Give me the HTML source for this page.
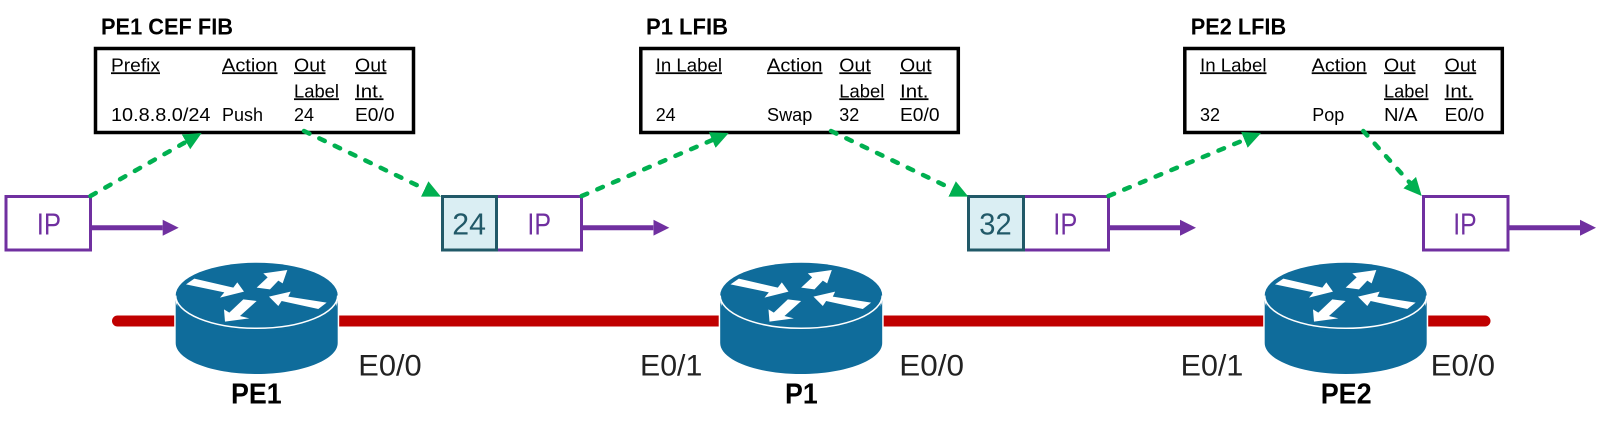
<!DOCTYPE html>
<html><head><meta charset="utf-8"><style>
html,body{margin:0;padding:0;background:#fff}
svg{display:block}
text{font-family:"Liberation Sans",sans-serif}
.t{font-size:18px;fill:#000}
.u{text-decoration:underline}
.h{font-size:23.500px;font-weight:bold;fill:#000}
.e{font-size:30px;fill:#222}
.n{font-size:28.500px;font-weight:bold;fill:#000}
.ip{font-size:31px;fill:#7030A0}
.lb{font-size:31px;fill:#215968}
.box{fill:#fff;stroke:#000;stroke-width:3.500}
.p{fill:#fff;stroke:#7030A0;stroke-width:3}
.l{fill:#DAEEF3;stroke:#215968;stroke-width:3}
.g{stroke:#00B050;stroke-width:4.500;stroke-dasharray:6 11;stroke-linecap:round;fill:none;marker-end:url(#gh)}
.a{stroke:#7030A0;stroke-width:5;fill:none;marker-end:url(#ph)}
</style></head><body>
<svg width="1600" height="432" viewBox="0 0 1600 432" xmlns="http://www.w3.org/2000/svg">
<defs>
<marker id="gh" markerUnits="userSpaceOnUse" markerWidth="20" markerHeight="18" refX="0" refY="8.500" orient="auto"><path d="M0 0L18 8.500L0 17Z" fill="#00B050"/></marker>
<marker id="ph" markerUnits="userSpaceOnUse" markerWidth="18" markerHeight="17" refX="0" refY="8" orient="auto"><path d="M0 0L16 8L0 16Z" fill="#7030A0"/></marker>
<g id="r">
<path d="M175.700 295V343C175.700 360 212 374 256.700 374S337.700 360 337.700 343V295Z" fill="#0F6C9B" stroke="#fff" stroke-width="3"/>
<ellipse cx="256.700" cy="295.500" rx="81" ry="32.800" fill="#0F6C9B"/>
<path d="M175.700 295.500A81 32.800 0 0 0 337.700 295.500" fill="none" stroke="#fff" stroke-width="1.500"/>
<path d="M175.700 300V343C175.700 360 212 374 256.700 374S337.700 360 337.700 343V300A81 32.800 0 0 1 175.700 300Z" fill="#0F6C9B"/>
<g fill="#fff" transform="translate(100 240) scale(.3333)">
<path d="M258 133L283 116L400 143L412 127L432 155L360 173L373 157Z"/>
<path d="M562 90L490 100L503 112L470 143L510 148L535 122L548 130Z"/>
<path d="M507 170L572 155L565 170L680 188L655 207L545 183L535 198Z"/>
<path d="M375 245L372 208L388 218L430 178L470 183L420 228L448 235Z"/>
</g>
</g>
</defs>

<path d="M117.500 321H1485" stroke="#C00000" stroke-width="11" stroke-linecap="round" fill="none"/>
<use href="#r"/>
<use href="#r" x="544.500"/>
<use href="#r" x="1089"/>

<text class="h" x="101" y="34.300" textLength="132" lengthAdjust="spacingAndGlyphs">PE1 CEF FIB</text>
<text class="h" x="646" y="34.300" textLength="82" lengthAdjust="spacingAndGlyphs">P1 LFIB</text>
<text class="h" x="1190.700" y="34.300" textLength="95.500" lengthAdjust="spacingAndGlyphs">PE2 LFIB</text>

<rect class="box" x="95.500" y="48.500" width="318" height="84"/>
<rect class="box" x="640.800" y="48.500" width="317.500" height="84"/>
<rect class="box" x="1184.800" y="48.500" width="317.500" height="84"/>

<text class="t u" x="111" y="71.300" textLength="49" lengthAdjust="spacingAndGlyphs">Prefix</text>
<text class="t u" x="222" y="71.300" textLength="55.500" lengthAdjust="spacingAndGlyphs">Action</text>
<text class="t u" x="294" y="71.300" textLength="31.500" lengthAdjust="spacingAndGlyphs">Out</text>
<text class="t u" x="355" y="71.300" textLength="31.500" lengthAdjust="spacingAndGlyphs">Out</text>
<text class="t u" x="294" y="97.300" textLength="45" lengthAdjust="spacingAndGlyphs">Label</text>
<text class="t u" x="355" y="97.300" textLength="28.500" lengthAdjust="spacingAndGlyphs">Int.</text>
<text class="t" x="111" y="121" textLength="99.500" lengthAdjust="spacingAndGlyphs">10.8.8.0/24</text>
<text class="t" x="222" y="121" textLength="41" lengthAdjust="spacingAndGlyphs">Push</text>
<text class="t" x="294" y="121" textLength="20" lengthAdjust="spacingAndGlyphs">24</text>
<text class="t" x="355" y="121" textLength="39.500" lengthAdjust="spacingAndGlyphs">E0/0</text>

<text class="t u" x="655.700" y="71.300" textLength="66.300" lengthAdjust="spacingAndGlyphs">In Label</text>
<text class="t u" x="767" y="71.300" textLength="55.500" lengthAdjust="spacingAndGlyphs">Action</text>
<text class="t u" x="839.300" y="71.300" textLength="31.500" lengthAdjust="spacingAndGlyphs">Out</text>
<text class="t u" x="900" y="71.300" textLength="31.500" lengthAdjust="spacingAndGlyphs">Out</text>
<text class="t u" x="839.300" y="97.300" textLength="45" lengthAdjust="spacingAndGlyphs">Label</text>
<text class="t u" x="900" y="97.300" textLength="28.500" lengthAdjust="spacingAndGlyphs">Int.</text>
<text class="t" x="655.700" y="121" textLength="20" lengthAdjust="spacingAndGlyphs">24</text>
<text class="t" x="767" y="121" textLength="45.300" lengthAdjust="spacingAndGlyphs">Swap</text>
<text class="t" x="839.300" y="121" textLength="20" lengthAdjust="spacingAndGlyphs">32</text>
<text class="t" x="900" y="121" textLength="39.500" lengthAdjust="spacingAndGlyphs">E0/0</text>

<text class="t u" x="1200" y="71.300" textLength="66.500" lengthAdjust="spacingAndGlyphs">In Label</text>
<text class="t u" x="1311.700" y="71.300" textLength="55" lengthAdjust="spacingAndGlyphs">Action</text>
<text class="t u" x="1384" y="71.300" textLength="31.500" lengthAdjust="spacingAndGlyphs">Out</text>
<text class="t u" x="1444.700" y="71.300" textLength="31.500" lengthAdjust="spacingAndGlyphs">Out</text>
<text class="t u" x="1384" y="97.300" textLength="44.500" lengthAdjust="spacingAndGlyphs">Label</text>
<text class="t u" x="1444.700" y="97.300" textLength="28.500" lengthAdjust="spacingAndGlyphs">Int.</text>
<text class="t" x="1200" y="121" textLength="20" lengthAdjust="spacingAndGlyphs">32</text>
<text class="t" x="1312.300" y="121" textLength="32" lengthAdjust="spacingAndGlyphs">Pop</text>
<text class="t" x="1384" y="121" textLength="33.500" lengthAdjust="spacingAndGlyphs">N/A</text>
<text class="t" x="1444.700" y="121" textLength="39.500" lengthAdjust="spacingAndGlyphs">E0/0</text>

<rect class="p" x="6" y="196.500" width="84.500" height="53.500"/>
<rect class="p" x="496.500" y="196.500" width="85" height="53.500"/>
<rect class="l" x="442.500" y="196.500" width="54" height="53.500"/>
<rect class="p" x="1023.500" y="196.500" width="85" height="53.500"/>
<rect class="l" x="968.500" y="196.500" width="55" height="53.500"/>
<rect class="p" x="1423.500" y="196.500" width="84.500" height="53.500"/>

<text class="ip" x="36.700" y="234.300" textLength="24.300" lengthAdjust="spacingAndGlyphs">IP</text>
<text class="lb" x="452.300" y="234.300" textLength="33.700" lengthAdjust="spacingAndGlyphs">24</text>
<text class="ip" x="527.400" y="234.300" textLength="23.600" lengthAdjust="spacingAndGlyphs">IP</text>
<text class="lb" x="979.300" y="234.300" textLength="32.400" lengthAdjust="spacingAndGlyphs">32</text>
<text class="ip" x="1053.300" y="234.300" textLength="24" lengthAdjust="spacingAndGlyphs">IP</text>
<text class="ip" x="1453.300" y="234.300" textLength="23.400" lengthAdjust="spacingAndGlyphs">IP</text>

<path class="a" d="M89 227.700H162.700"/>
<path class="a" d="M580 227.700H653.300"/>
<path class="a" d="M1107 227.700H1180"/>
<path class="a" d="M1507 227.700H1580"/>

<path class="g" d="M90.500 196L186 141.900"/>
<path class="g" d="M304 131L424.700 188.900"/>
<path class="g" d="M581.700 196L712.200 140.100"/>
<path class="g" d="M831 131L952.100 188.900"/>
<path class="g" d="M1108.500 196L1244.400 139.900"/>
<path class="g" d="M1363.300 131L1409.700 182.600"/>

<text class="e" x="358.300" y="375.500" textLength="63.400" lengthAdjust="spacingAndGlyphs">E0/0</text>
<text class="e" x="640" y="375.500" textLength="62.300" lengthAdjust="spacingAndGlyphs">E0/1</text>
<text class="e" x="899.300" y="375.500" textLength="64.700" lengthAdjust="spacingAndGlyphs">E0/0</text>
<text class="e" x="1180.700" y="375.500" textLength="62.600" lengthAdjust="spacingAndGlyphs">E0/1</text>
<text class="e" x="1430.700" y="375.500" textLength="64.300" lengthAdjust="spacingAndGlyphs">E0/0</text>

<text class="n" x="231" y="403.300" textLength="50.700" lengthAdjust="spacingAndGlyphs">PE1</text>
<text class="n" x="785" y="403.300" textLength="32.700" lengthAdjust="spacingAndGlyphs">P1</text>
<text class="n" x="1320.700" y="403.300" textLength="51" lengthAdjust="spacingAndGlyphs">PE2</text>
</svg>
</body></html>
